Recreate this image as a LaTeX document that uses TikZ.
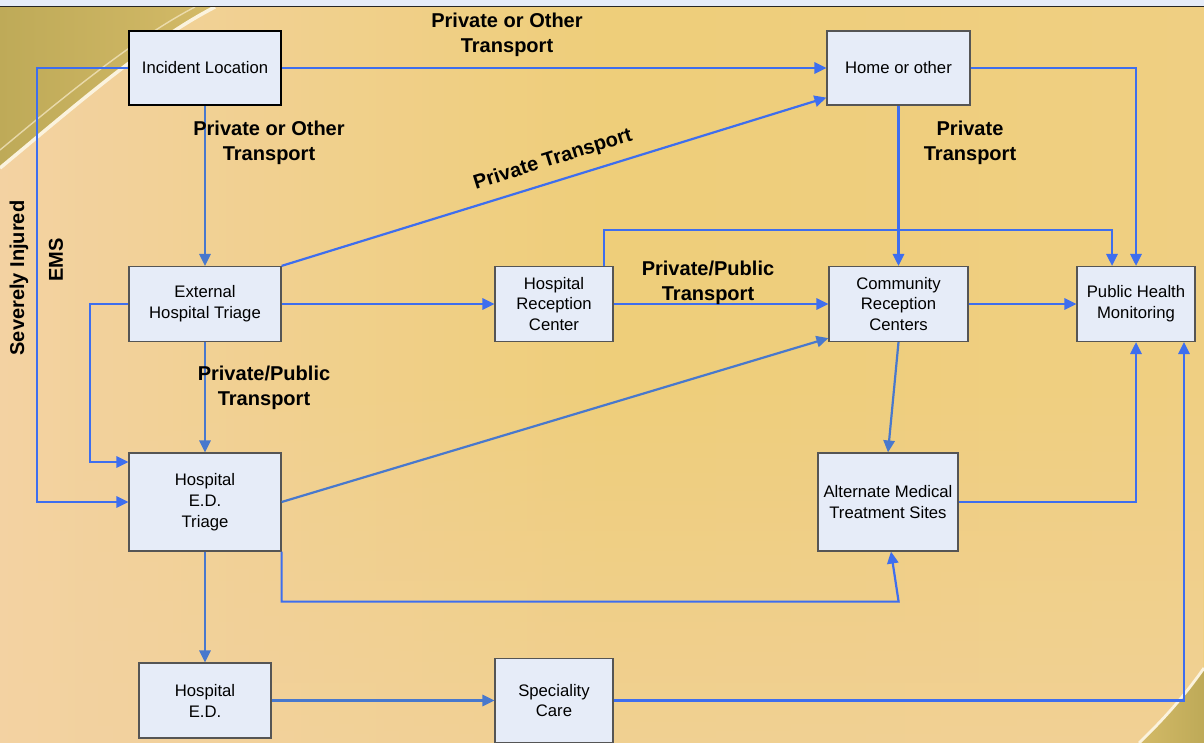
\documentclass[tikz,border=0pt]{standalone}
\usepackage{fontspec}
\setmainfont{Liberation Sans}
\usetikzlibrary{arrows.meta,positioning,fadings}
\definecolor{boxfill}{RGB}{230,236,248}
\definecolor{boxline}{RGB}{85,85,85}
\definecolor{flowblue}{RGB}{62,110,238}
\definecolor{flowdull}{RGB}{72,120,205}
\definecolor{peach}{RGB}{243,210,162}
\definecolor{sand}{RGB}{238,206,122}
\definecolor{olive}{RGB}{190,170,88}

\begin{document}
\begin{tikzpicture}[x=0.02cm, y=-0.02cm,
state/.style={rectangle, draw=boxline, fill=boxfill, line width=0.7pt, inner sep=1pt, align=center, font=\fontsize{9.5}{11.9}\selectfont},
lbl/.style={align=center, font=\bfseries\fontsize{11.4}{14.2}\selectfont, inner sep=0pt},
flow/.style={draw=flowblue, line width=1.25pt, -{Triangle[length=6.8pt,width=6.4pt]}},
]
%Background
\useasboundingbox (0,0) rectangle (1204,743);
\shade[left color=peach, right color=sand!80!peach, middle color=sand] (0,0) rectangle (1204,743);
\fill[peach, path fading=north, opacity=0.6] (0,380) rectangle (1204,743);
\shade[left color=olive, right color=olive!55!sand] (0,7) -- (215,7) .. controls (150,40) and (70,110) .. (0,168) -- cycle;
\draw[white!75!sand, line width=2pt] (215,7) .. controls (150,40) and (70,110) .. (0,168);
\draw[white!60!sand, line width=0.8pt, opacity=0.7] (195,7) .. controls (135,38) and (60,100) .. (0,150);
\shade[left color=olive!55!sand, right color=olive] (1204,668) .. controls (1185,695) and (1165,718) .. (1139,743) -- (1204,743) -- cycle;
\draw[white!75!sand, line width=1.6pt] (1204,668) .. controls (1185,695) and (1165,718) .. (1139,743);
\fill[boxfill] (0,0) rectangle (1204,6);
\draw[black!85, line width=0.8pt] (0,6.5) -- (1204,6.5);

%Nodes
\node[state, draw=black, line width=1.4pt, minimum width=3.04cm, minimum height=1.48cm] (inc) at (205,68) {Incident Location};
\node[state, minimum width=2.86cm, minimum height=1.48cm] (home) at (898.5,68) {Home or other};
\node[state, minimum width=3.04cm, minimum height=1.5cm] (ext) at (205,304) {External\\Hospital Triage};
\node[state, minimum width=2.36cm, minimum height=1.5cm] (hrc) at (554,304) {Hospital\\Reception\\Center};
\node[state, minimum width=2.78cm, minimum height=1.5cm] (crc) at (898.5,304) {Community\\Reception\\Centers};
\node[state, minimum width=2.36cm, minimum height=1.5cm] (phm) at (1136,304) {Public Health\\Monitoring};
\node[state, minimum width=3.04cm, minimum height=1.96cm] (edt) at (205,502) {Hospital\\E.D.\\Triage};
\node[state, minimum width=2.8cm, minimum height=1.96cm] (amt) at (888,502) {Alternate Medical\\Treatment Sites};
\node[state, minimum width=2.64cm, minimum height=1.5cm] (ed) at (205,700.5) {Hospital\\E.D.};
\node[state, minimum width=2.36cm, minimum height=1.68cm] (spc) at (554,700.5) {Speciality\\Care};

%Lines
\draw[flow] (inc.east) -- (home.west);
\draw[flow] (inc.west) -- ++(-91,0) |- (edt.west);
\draw[flow, draw=flowdull] (inc.south) -- (ext.north);
\draw[flow] (ext.north east) -- ([yshift=0.16cm]home.south west);
\draw[flow] (ext.east) -- (hrc.west);
\draw[flow] (ext.west) -- ++(-38,0) |- ([yshift=0.8cm]edt.west);
\draw[flow, draw=flowdull] (ext.south) -- (edt.north);
\draw[flow] (home.south) -- (crc.north);
\draw[flow] (home.east) -| (phm.north);
\draw[flow] ([xshift=1cm]hrc.north) -- ++(0,-36) -| ([xshift=-0.48cm]phm.north);
\draw[flow] (hrc.east) -- (crc.west);
\draw[flow] (crc.east) -- (phm.west);
\draw[flow, draw=flowdull] (crc.south) -- (amt.north);
\draw[flow, draw=flowdull] (edt.east) -- ([yshift=0.08cm]crc.south west);
\draw[flow] (edt.south east) -- ++(0,50) -- ++(617,0) -- ([xshift=0.06cm]amt.south);
\draw[flow] (amt.east) -| (phm.south);
\draw[flow, draw=flowdull] (edt.south) -- (ed.north);
\draw[flow, draw=flowdull] (ed.east) -- (spc.west);
\draw[flow] (spc.east) -| ([xshift=0.96cm]phm.south);

%Labels
\node[lbl] (top)  at (507,35)  {Private or Other\\Transport};
\node[lbl] (down) at (269,143) {Private or Other\\Transport};
\node[lbl] (pub1) at (264,388) {Private/Public\\Transport};
\node[lbl] (pub2) at (708,283) {Private/Public\\Transport};
\node[lbl] (priv) at (970,143) {Private\\Transport};
\node[lbl, rotate=17.4] (slant) at (553,160) {Private Transport};
\node[lbl, rotate=90] (sev) at (19,278) {Severely Injured};
\node[lbl, rotate=90] (ems) at (56,260) {EMS};
\end{tikzpicture}
\end{document}
